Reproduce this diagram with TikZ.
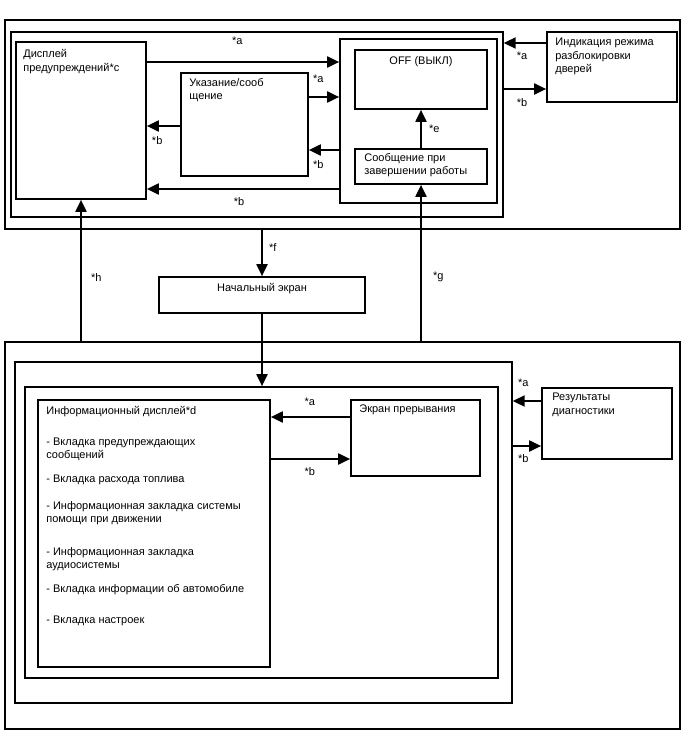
\documentclass[tikz,border=0pt]{standalone}
\usepackage{fontspec}
\setmainfont{Liberation Sans}
\usetikzlibrary{arrows.meta,positioning}

\begin{document}
\begin{tikzpicture}[
  x=1pt,y=-1pt,
  font=\fontsize{11}{13.5}\selectfont,
  box/.style 2 args={draw,line width=1.7pt,minimum width=#1,minimum height=#2,inner sep=0pt},
  frame/.style 2 args={draw,line width=1.4pt,minimum width=#1,minimum height=#2,inner sep=0pt},
  arr/.style={-{Triangle[length=12pt,width=11pt]},line width=2pt},
  txt/.style={anchor=north west,align=left,inner sep=0pt},
  lab/.style={inner sep=0pt}
]
\useasboundingbox (0,0) rectangle (688,755);

\node[frame={675}{209}] (topframe) at (342.5,124.5) {};
\node[frame={492}{185}] (topzone) at (257,124.5) {};
\node[box={130}{157}] (disp) at (81,120.5) {};
\node[box={127}{103}] (hint) at (244.5,124.5) {};
\node[box={157}{164}] (grp) at (418.5,121) {};
\node[box={132}{59}] (off) at (421,79.5) {};
\node[box={132}{35}] (shutdown) at (421,166.5) {};
\node[box={130}{70}] (unlock) at (612,67) {};
\node[box={206}{36}] (home) at (262,295) {};
\node[frame={675}{387}] (botframe) at (342.5,535.5) {};
\node[frame={497}{341}] (botzone) at (263.5,532.5) {};
\node[box={473}{291}] (infozone) at (261.5,532.5) {};
\node[box={232}{267}] (info) at (154,533.5) {};
\node[box={129}{76}] (interrupt) at (415.5,438) {};
\node[box={130}{71}] (diag) at (607,423.5) {};

\node[txt,below right=8pt and 8pt of disp.north west] (disptxt) {Дисплей\\предупреждений*c};
\node[txt,below right=6pt and 9pt of hint.north west] (hinttxt) {Указание/сооб\\щение};
\node[lab,anchor=north,below=7pt of off.north] (offtxt) {OFF (ВЫКЛ)};
\node[txt,below right=5pt and 10pt of shutdown.north west] (shutdowntxt) {Сообщение при\\завершении работы};
\node[txt,below right=7pt and 9pt of unlock.north west] (unlocktxt) {Индикация режима\\разблокировки\\дверей};
\node[lab,anchor=north,below=7pt of home.north] (hometxt) {Начальный экран};
\node[txt,below right=7pt and 9pt of info.north west,font=\fontsize{11}{13}\selectfont] (infotxt) {Информационный дисплей*d\\[18pt]
  - Вкладка предупреждающих\\сообщений\\[11pt]
  - Вкладка расхода топлива\\[14pt]
  - Информационная закладка системы\\помощи при движении\\[20pt]
  - Информационная закладка\\аудиосистемы\\[11pt]
  - Вкладка информации об автомобиле\\[18pt]
  - Вкладка настроек};
\node[txt,below right=5pt and 9pt of interrupt.north west] (interrupttxt) {Экран прерывания};
\node[txt,below right=6pt and 11pt of diag.north west] (diagtxt) {Результаты\\диагностики};

\draw[arr] (disp.east |- 0,62) -- node[lab,pos=0.47,above=16pt]{*a} (grp.west |- 0,62);
\draw[arr] (hint.east |- 0,97) -- node[lab,pos=0.31,above=13pt]{*a} (grp.west |- 0,97);
\draw[arr] (hint.west |- 0,126) -- node[lab,pos=0.69,below=10pt]{*b} (disp.east |- 0,126);
\draw[arr] (grp.west |- 0,150) -- node[lab,pos=0.69,below=10pt]{*b} (hint.east |- 0,150);
\draw[arr] (grp.west |- 0,189) -- node[lab,pos=0.52,below=8pt]{*b} (disp.east |- 0,189);
\draw[arr] (shutdown.north) -- node[lab,pos=0.5,right=7pt]{*e} (off.south);
\draw[arr] (unlock.west |- 0,43) -- node[lab,pos=0.57,below=8pt]{*a} (topzone.east |- 0,43);
\draw[arr] (topzone.east |- 0,89) -- node[lab,pos=0.43,below=9pt]{*b} (unlock.west |- 0,89);
\draw[arr] (topframe.south -| home.north) -- node[lab,pos=0.375,right=6pt]{*f} (home.north);
\draw[arr] (disp.south |- botframe.north) -- node[lab,pos=0.45,right=9pt]{*h} (disp.south);
\draw[arr] (shutdown.south |- botframe.north) -- node[lab,pos=0.41,right=11pt]{*g} (shutdown.south);
\draw[arr] (home.south) -- (home.south |- infozone.north);
\draw[arr] (interrupt.west |- 0,417) -- node[lab,pos=0.51,above=10pt]{*a} (info.east |- 0,417);
\draw[arr] (info.east |- 0,459) -- node[lab,pos=0.49,below=8pt]{*b} (interrupt.west |- 0,459);
\draw[arr] (diag.west |- 0,401) -- node[lab,pos=0.63,above=13pt]{*a} (botzone.east |- 0,401);
\draw[arr] (botzone.east |- 0,446) -- node[lab,pos=0.37,below=8pt]{*b} (diag.west |- 0,446);
\end{tikzpicture}
\end{document}
